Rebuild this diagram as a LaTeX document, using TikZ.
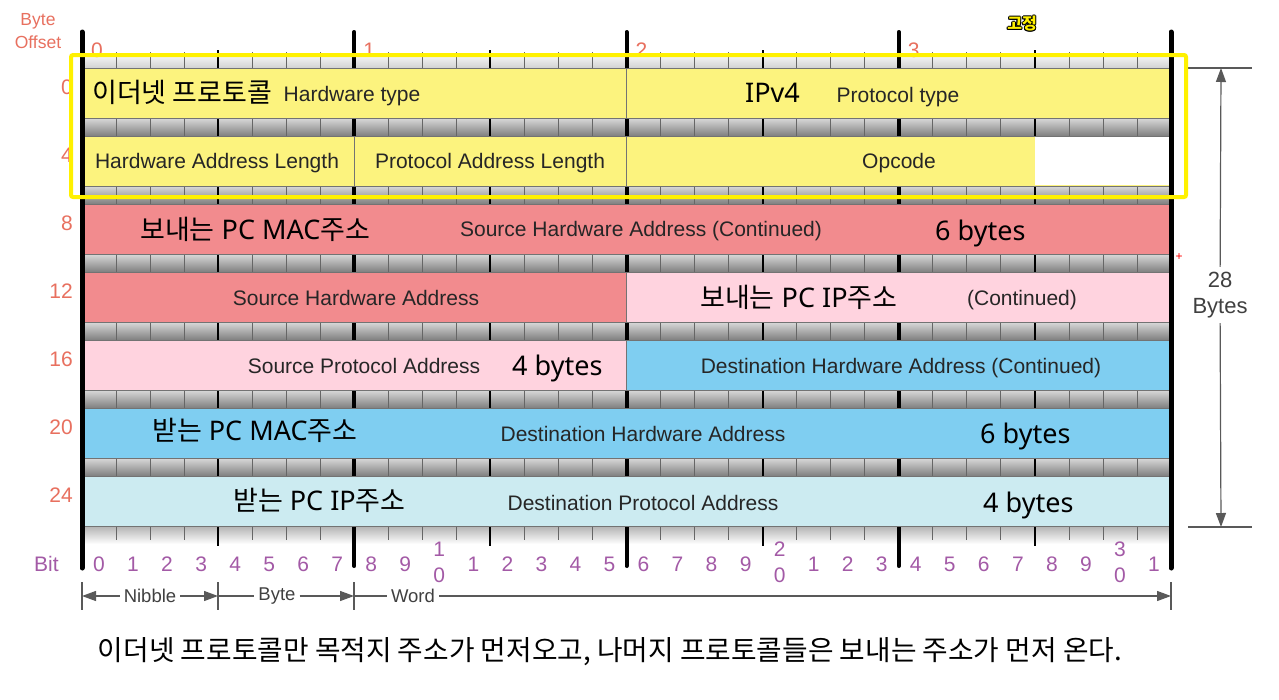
\documentclass[tikz,border=0pt]{standalone}
\usepackage{fontspec}
\setmainfont{Noto Sans}
\newfontfamily\kr{Noto Sans CJK KR}
\newfontfamily\lab{Liberation Sans}
\usetikzlibrary{arrows.meta}
\definecolor{cellyel}{HTML}{FCF37E}
\definecolor{cellred}{HTML}{F28B8E}
\definecolor{cellpink}{HTML}{FFD3DF}
\definecolor{cellblue}{HTML}{7FCEF1}
\definecolor{cellcyan}{HTML}{CCEBF1}
\definecolor{ofsred}{HTML}{E8705F}
\definecolor{bitpurple}{HTML}{A35AA6}
\definecolor{hilite}{HTML}{FFF100}
\tikzset{
  cellbox/.style={draw=black!55, line width=1pt},
  sepband/.style={top color=black!15, bottom color=black!50},
  bittick/.style={draw=black!60, line width=0.8pt},
  midtick/.style={draw=black, line width=2.2pt},
  bytetick/.style={draw=black, line width=4pt, line cap=round},
  big/.style={font=\fontsize{27}{30}\selectfont, inner sep=0pt, anchor=base west},
  lbl/.style={font=\lab\fontsize{21}{24}\selectfont, text=black!85, inner sep=0pt, anchor=base},
  ofs/.style={font=\lab\fontsize{21}{24}\selectfont, text=ofsred, inner sep=0pt},
  bitno/.style={font=\lab\fontsize{21}{24}\selectfont, text=bitpurple, inner sep=0pt},
  fixlbl/.style={font=\kr\fontsize{16}{16}\selectfont\bfseries, inner sep=0pt},
  dimln/.style={draw=black!65, line width=1.2pt},
  dimarr/.style={dimln, -{Triangle[length=14pt,width=10pt]}},
  spanlbl/.style={font=\lab\fontsize{18.5}{20}\selectfont, text=black!75, inner sep=4pt}
}
\def\bw{34.031}

\begin{document}
\begin{tikzpicture}[x=1pt, y=-1pt]
	\useasboundingbox (0,0) rectangle (1279,699);
	\fill[white] (0,0) rectangle (1279,699);
	% gray bands between the rows, and the two rulers
	\foreach \rw in {0,...,5}
		\shade[sepband] (82,{118+68*\rw}) rectangle (1171,{136+68*\rw});
	\shade[top color=white, bottom color=black!18] (82,52) rectangle (1171,68);
	\shade[top color=black!30, bottom color=white] (82,526) rectangle (1171,544);
	% one tick per bit
	\foreach \bt in {1,...,31} {
		\draw[bittick] ({82+\bw*\bt},52) -- ({82+\bw*\bt},68);
		\foreach \rw in {0,...,5}
			\draw[bittick] ({82+\bw*\bt},{118+68*\rw}) -- ({82+\bw*\bt},{136+68*\rw});
		\draw[bittick] ({82+\bw*\bt},526) -- ({82+\bw*\bt},540);
	}
	% nibble ticks
	\foreach \bt in {4,12,20,28} {
		\draw[midtick] ({82+\bw*\bt},50) -- ({82+\bw*\bt},68);
		\foreach \rw in {0,...,5}
			\draw[midtick] ({82+\bw*\bt},{118+68*\rw}) -- ({82+\bw*\bt},{136+68*\rw});
		\draw[midtick] ({82+\bw*\bt},526) -- ({82+\bw*\bt},546);
	}
	% byte lines
	\foreach \bt in {8,16,24}
		\draw[bytetick] ({82+\bw*\bt},32) -- ({82+\bw*\bt},566);
	% header fields
	\foreach \xa/\xb/\rw/\col in {0/16/0/cellyel, 16/32/0/cellyel, 0/8/1/cellyel, 8/16/1/cellyel,
		16/32/1/cellyel, 0/32/2/cellred, 0/16/3/cellred, 16/32/3/cellpink, 0/16/4/cellpink,
		16/32/4/cellblue, 0/32/5/cellblue, 0/32/6/cellcyan}
		\draw[cellbox, fill=\col] ({82+\bw*\xa},{68+68*\rw}) rectangle ({82+\bw*\xb},{118+68*\rw});
	\fill[white] ({82+\bw*28},137) rectangle (1169,185);
	\foreach \x in {82,1171}
		\draw[bytetick, line width=5pt] (\x,32) -- (\x,568);
	% row 0
	\node[big] (eth) at (92,102) {\kr 이더넷 프로토콜};
	\node[lbl] (hwtype) at (352,101) {Hardware type};
	\node[big] (ipv4) at (745,102) {IPv4};
	\node[lbl] (ptype) at (898,102) {Protocol type};
	% row 4
	\node[lbl] (hlen) at (217,168) {Hardware Address Length};
	\node[lbl] (plen) at (490,168) {Protocol Address Length};
	\node[lbl] (opc) at (899,168) {Opcode};
	% row 8
	\node[big] (smac) at (140,239) {{\kr 보내는} PC MAC{\kr 주소}};
	\node[lbl] (shac) at (641,236) {Source Hardware Address (Continued)};
	\node[big] (sixa) at (935,240) {6 bytes};
	% row 12
	\node[lbl] (sha) at (356,305) {Source Hardware Address};
	\node[big] (sip) at (700,307) {{\kr 보내는} PC IP{\kr 주소}};
	\node[lbl] (cont) at (1022,305) {(Continued)};
	% row 16
	\node[lbl] (spa) at (364,373) {Source Protocol Address};
	\node[big] (foura) at (512,375) {4 bytes};
	\node[lbl] (dhac) at (901,373) {Destination Hardware Address (Continued)};
	% row 20
	\node[big] (dmac) at (152,440) {{\kr 받는} PC MAC{\kr 주소}};
	\node[lbl] (dha) at (643,441) {Destination Hardware Address};
	\node[big] (sixb) at (980,443) {6 bytes};
	% row 24
	\node[big] (dip) at (233,510) {{\kr 받는} PC IP{\kr 주소}};
	\node[lbl] (dpa) at (643,510) {Destination Protocol Address};
	\node[big] (fourb) at (983,512) {4 bytes};
	% byte offsets
	\node[ofs, font=\lab\fontsize{17.5}{23}\selectfont, align=center] (boff) at (38,31) {Byte\\Offset};
	\foreach \rw in {0,...,6} {
		\pgfmathtruncatemacro\ofsval{4*\rw}
		\node[ofs, anchor=east] (off\rw) at (73,{87+68*\rw}) {\ofsval};
	}
	\foreach \i in {0,...,3}
		\node[ofs, anchor=west] (tb\i) at ({91+272.25*\i},50) {\i};
	% bit numbers
	\node[bitno, anchor=west] (bitlbl) at (34,564) {Bit};
	\foreach \i in {0,...,31} {
		\pgfmathtruncatemacro\unitd{mod(\i,10)}
		\pgfmathtruncatemacro\tensd{div(\i,10)}
		\pgfmathsetmacro\xc{82+\bw*(\i+0.5)}
		\ifnum\i>0 \ifnum\unitd=0
			\node[bitno] (bit\i) at (\xc,549) {\tensd};
			\node[bitno] (bitz\i) at (\xc,575) {0};
		\else
			\node[bitno] (bit\i) at (\xc,564) {\unitd};
		\fi\else
			\node[bitno] (bit\i) at (\xc,564) {\unitd};
		\fi
	}
	% nibble / byte / word
	\coordinate (s0) at (82,596);
	\coordinate (s1) at (218,596);
	\coordinate (s2) at (354,596);
	\coordinate (s3) at (1171,596);
	\foreach \c in {s0,s1,s2,s3}
		\draw[dimln] ([yshift=14pt]\c) -- ([yshift=-14pt]\c);
	\node[spanlbl] (nib) at (150,596) {Nibble};
	\node[spanlbl] (byt) at (277,596) {Byte};
	\node[spanlbl] (wrd) at (413,596) {Word};
	\draw[dimarr] (nib) -- (s0);
	\draw[dimarr] (nib) -- (s1);
	\draw[dimln] (s1) -- (byt);
	\draw[dimarr] (byt) -- (s2);
	\draw[dimln] (s2) -- (wrd);
	\draw[dimarr] (wrd) -- (s3);
	% total length
	\coordinate (dt) at (1221,68);
	\coordinate (db) at (1221,527);
	\draw[dimln] ([xshift=-33pt]dt) -- ([xshift=31pt]dt);
	\draw[dimln] ([xshift=-33pt]db) -- ([xshift=31pt]db);
	\node[font=\lab\fontsize{22}{26}\selectfont, text=black!75, align=center, inner sep=5pt] (tot) at (1220,295) {28\\Bytes};
	\draw[dimarr] (tot) -- (dt);
	\draw[dimarr] (tot) -- (db);
	\node[text=red, font=\lab\fontsize{12}{12}\selectfont, inner sep=0pt] (plus) at (1179,257) {+};
	% fixed part
	\draw[hilite, line width=4pt, rounded corners=2pt] (71,55) rectangle (1186,197);
	\foreach \dx/\dy [count=\k] in {-1/0, 1/0, 0/-1, 0/1, -0.8/-0.8, 0.8/0.8, -0.8/0.8, 0.8/-0.8}
		\node[fixlbl, text=black] (fixo\k) at ({1022+\dx},{24+\dy}) {고정};
	\node[fixlbl, text=hilite] (fix) at (1022,24) {고정};
	% caption
	\node[font=\kr\fontsize{27.8}{30}\selectfont] (cap) at (610,652) {이더넷 프로토콜만 목적지 주소가 먼저오고, 나머지 프로토콜들은 보내는 주소가 먼저 온다.};
\end{tikzpicture}
\end{document}
